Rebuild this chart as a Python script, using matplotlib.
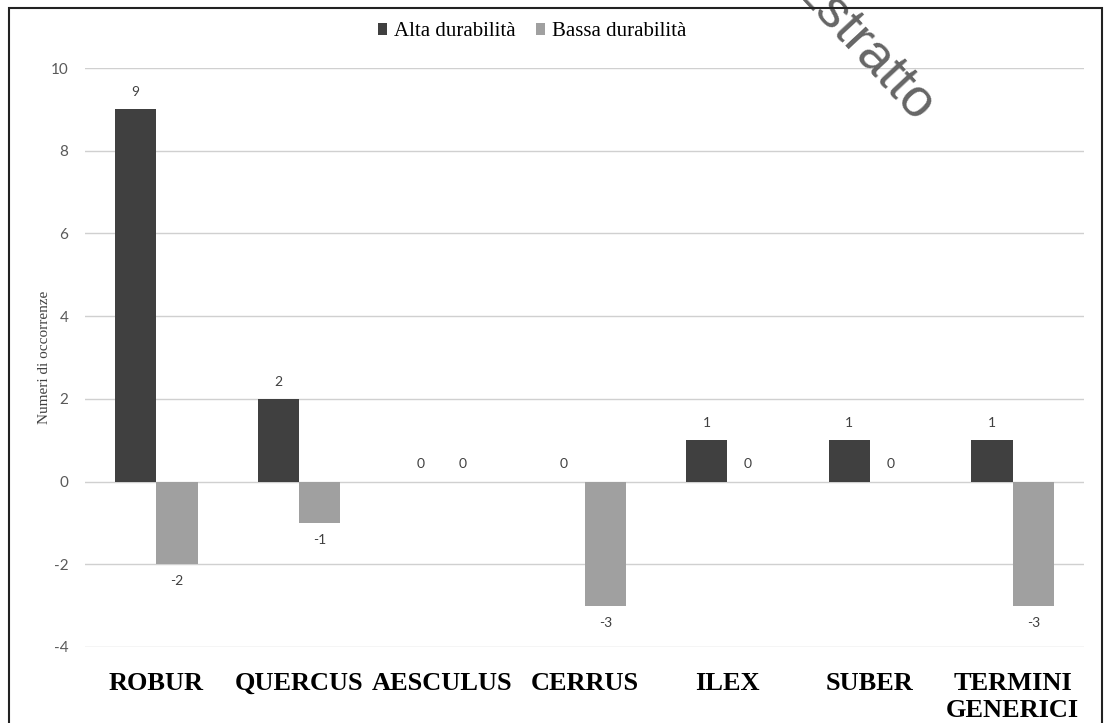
import matplotlib
matplotlib.use("Agg")
import matplotlib.pyplot as plt
import numpy as np
from matplotlib.patches import Rectangle

categories = ["ROBUR", "QUERCUS", "AESCULUS", "CERRUS", "ILEX", "SUBER", "TERMINI\nGENERICI"]
alta = [9, 2, 0, 0, 1, 1, 1]
bassa = [-2, -1, 0, -3, 0, 0, -3]
series_names = ["Alta durabilità", "Bassa durabilità"]
yticks = [-4, -2, 0, 2, 4, 6, 8, 10]

dark = "#404040"
light = "#a0a0a0"
serif = ["Liberation Serif", "DejaVu Serif"]
sans = ["Lato", "DejaVu Sans"]

fig = plt.figure(figsize=(11.06, 7.23), dpi=100)
W, H = 1106, 723
ax = fig.add_axes([85 / W, 1 - 647 / H, (1084 - 85) / W, (647 - 68) / H])

x = np.arange(len(categories))
bw = 0.29
b1 = ax.bar(x - bw / 2, alta, bw, color=dark, label=series_names[0], zorder=3)
b2 = ax.bar(x + bw / 2, bassa, bw, color=light, label=series_names[1], zorder=3)

for xi, v in zip(x - bw / 2, alta):
    ax.annotate(str(v), (xi, v), xytext=(0, 8 if v >= 0 else -8), textcoords="offset points",
                ha="center", va="bottom" if v >= 0 else "top", fontsize=10, family=sans, color="#404040")
for xi, v in zip(x + bw / 2, bassa):
    ax.annotate(str(v), (xi, v), xytext=(0, 8 if v >= 0 else -8), textcoords="offset points",
                ha="center", va="bottom" if v >= 0 else "top", fontsize=10, family=sans, color="#404040")

ax.set_xlim(-0.5, len(categories) - 0.5)
ax.set_ylim(-4, 10)
ax.set_yticks(yticks)
ax.set_yticklabels([str(t) for t in yticks], family=sans, fontsize=11, color="#595959")
ax.set_xticks(x)
ax.set_xticklabels(categories, family=serif, fontsize=19, fontweight="bold", va="top")
ax.tick_params(axis="y", length=0, pad=12)
ax.tick_params(axis="x", length=0, pad=18)
ax.grid(axis="y", color="#d0d0d0", linewidth=1, zorder=0)
for s in ax.spines.values():
    s.set_visible(False)
ax.set_ylabel("Numeri di occorrenze", family=serif, fontsize=11, color="#404040", labelpad=0)

fig.legend(handles=[b1, b2], labels=series_names, loc="center", bbox_to_anchor=(532 / W, 1 - 32 / H),
           ncol=2, frameon=False, prop={"family": serif, "size": 15},
           handlelength=0.45, handleheight=0.45, handletextpad=0.3, columnspacing=1.0)

# outer frame
fig.patches.append(Rectangle((9 / W, -0.05), (1102 - 9) / W, 1.05 - 8 / H, transform=fig.transFigure,
                             fill=False, edgecolor="#222222", linewidth=1.5, zorder=10))

# watermark
fig.text(862 / W, 1 - 47 / H, "Estratto", rotation=-47, ha="center", va="center",
         fontsize=39, family=["Liberation Sans", "DejaVu Sans"], color="#555555", alpha=0.9,
         rotation_mode="anchor")

fig.savefig("out.png", dpi=100)
